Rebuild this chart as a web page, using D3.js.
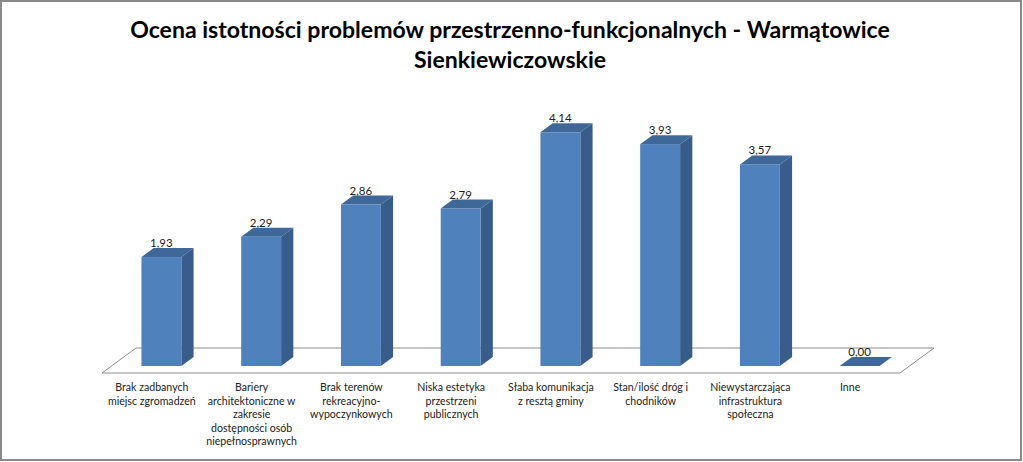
<!DOCTYPE html>
<html><head><meta charset="utf-8">
<script src="https://cdn.jsdelivr.net/npm/d3@7"></script>
<style>html,body{margin:0;padding:0;background:#fff;}svg{display:block;}</style>
</head><body>
<svg id="chart" width="1023" height="462"></svg>
<script>
const titleLines = ["Ocena istotności problemów przestrzenno-funkcjonalnych - Warmątowice", "Sienkiewiczowskie"];
const categories = [
  "Brak zadbanych\nmiejsc zgromadzeń",
  "Bariery\narchitektoniczne w\nzakresie\ndostępności osób\nniepełnosprawnych",
  "Brak terenów\nrekreacyjno-\nwypoczynkowych",
  "Niska estetyka\nprzestrzeni\npublicznych",
  "Słaba komunikacja\nz resztą gminy",
  "Stan/ilość dróg i\nchodników",
  "Niewystarczająca\ninfrastruktura\nspołeczna",
  "Inne"
];
const values = [1.93, 2.29, 2.86, 2.79, 4.14, 3.93, 3.57, 0.00];

const svg = d3.select("#chart");
const W = 1023, H = 462;
const font = "Lato, 'Open Sans', 'Liberation Sans', sans-serif";

// border
svg.append("rect").attr("x", 1).attr("y", 1).attr("width", W - 3).attr("height", H - 3)
  .attr("fill", "#fff").attr("stroke", "#8a8a8a").attr("stroke-width", 2);

// title
const title = svg.append("g");
const tl1 = title.append("text").attr("x", 510).attr("y", 38).text(titleLines[0]);
const tl2 = title.append("text").attr("x", 510).attr("y", 68).text(titleLines[1]);
title.selectAll("text").attr("text-anchor", "middle").attr("font-family", font)
  .attr("font-weight", "bold").attr("font-size", 24).attr("fill", "#000");
const w1 = tl1.node().getComputedTextLength();
const fs = 24 * 760 / w1;
title.selectAll("text").attr("font-size", fs);

// geometry
const floorFrontY = 373, floorLeft = 102, floorRight = 900;
const depth = {dx: 34, dy: -25};
const x = d3.scaleBand().domain(d3.range(categories.length)).range([floorLeft, floorRight]).padding(0);
const y = d3.scaleLinear().domain([0, 4.5]).range([0, 254]);
const f0 = 0.28, f1 = 0.64;
const barW = x.bandwidth() * 0.4;

// floor
const floorPts = [[floorLeft, floorFrontY], [floorRight, floorFrontY],
  [floorRight + depth.dx, floorFrontY + depth.dy], [floorLeft + depth.dx, floorFrontY + depth.dy]];
svg.append("polygon").attr("points", floorPts.map(p => p.join(",")).join(" "))
  .attr("fill", "#fff").attr("stroke", "#8c8c8c").attr("stroke-width", 1);

const cFront = "#4f81bd", cSide = "#385d8a", cTop = "#3f6899";
const sdx = depth.dx * (f1 - f0), sdy = depth.dy * (f1 - f0);

const bars = svg.append("g");
values.forEach((v, i) => {
  const cx = x(i) + x.bandwidth() / 2 + depth.dx * f0;
  const by = floorFrontY + depth.dy * f0;
  const x0 = cx - barW / 2, x1 = cx + barW / 2;
  const ty = by - y(v);
  const g = bars.append("g");
  if (v > 0) {
    g.append("polygon").attr("fill", cSide)
      .attr("points", [[x1, by], [x1 + sdx, by + sdy], [x1 + sdx, ty + sdy], [x1, ty]].map(p => p.join(",")).join(" "));
    g.append("rect").attr("x", x0).attr("y", ty).attr("width", barW).attr("height", by - ty).attr("fill", cFront);
  }
  g.append("polygon").attr("fill", cTop)
    .attr("points", [[x0, ty], [x1, ty], [x1 + sdx, ty + sdy], [x0 + sdx, ty + sdy]].map(p => p.join(",")).join(" "));
  g.append("text").attr("x", cx).attr("y", ty + sdy - 1).attr("text-anchor", "middle")
    .attr("font-family", font).attr("font-size", 11.5).attr("fill", "#222")
    .text(d3.format(".2f")(v).replace(".", ","));
});

// category labels
const labels = svg.append("g").attr("font-family", font).attr("font-size", 10.6).attr("fill", "#222");
categories.forEach((c, i) => {
  const t = labels.append("text").attr("text-anchor", "middle");
  c.split("\n").forEach((line, j) => {
    t.append("tspan").attr("x", x(i) + x.bandwidth() / 2).attr("y", 391 + j * 13.6).text(line);
  });
});
</script>
</body></html>
